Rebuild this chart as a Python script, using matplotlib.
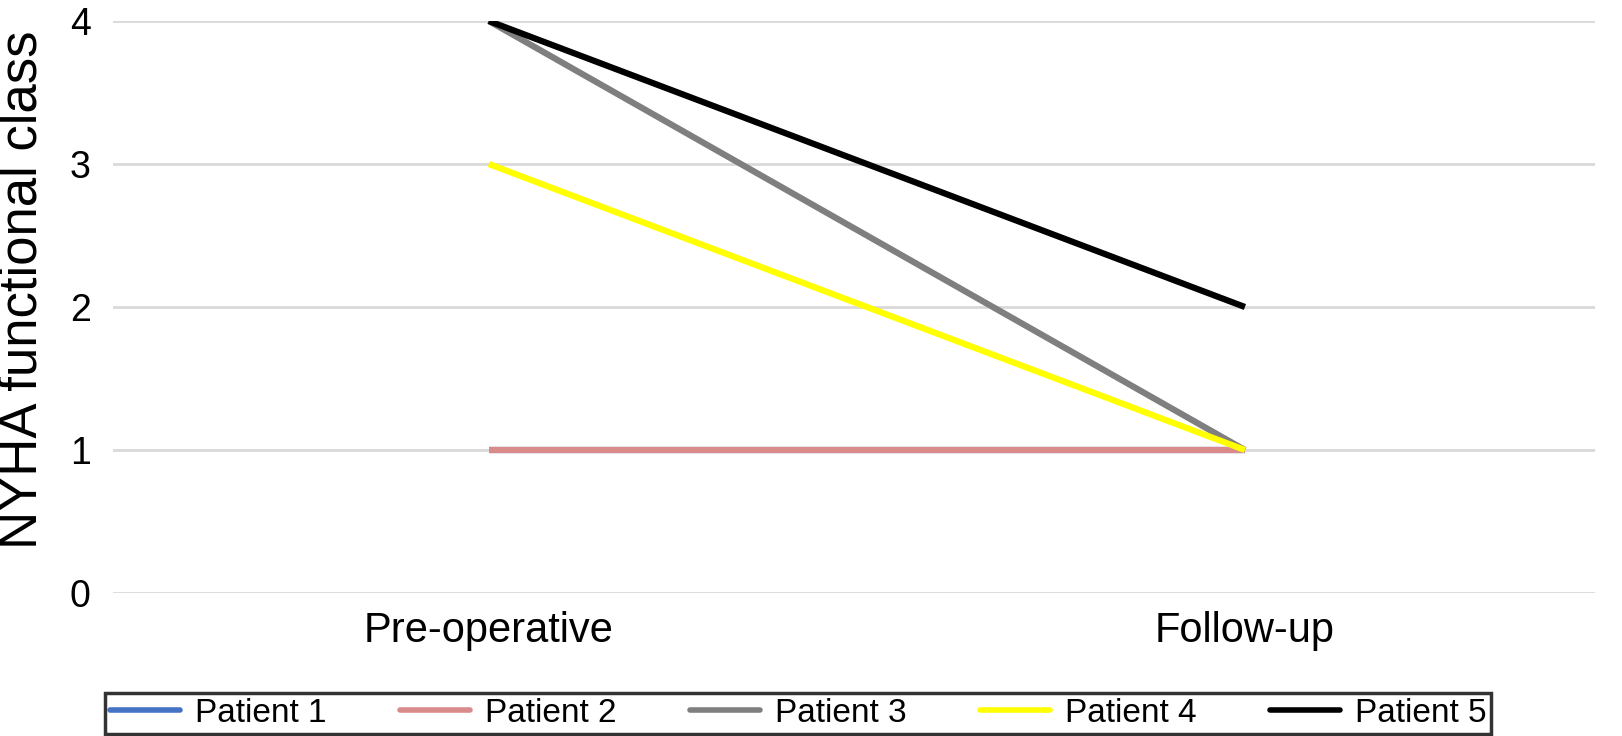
import matplotlib
matplotlib.use("Agg")
import matplotlib.pyplot as plt

plt.rcParams["font.family"] = ["Liberation Sans", "DejaVu Sans"]

stages = ["Pre-operative", "Follow-up"]
patients = ["Patient 1", "Patient 2", "Patient 3", "Patient 4", "Patient 5"]
nyha = [
    [1, 1],
    [1, 1],
    [4, 1],
    [3, 1],
    [4, 2],
]
colors = ["#4472C4", "#D98B8B", "#7F7F7F", "#FFFF00", "#000000"]

W, H = 1622, 736
fig = plt.figure(figsize=(W / 100, H / 100), dpi=100)
# axes box in pixels: left 113, right 1595, top 21, bottom 593
ax = fig.add_axes([113 / W, 1 - 593 / H, (1595 - 113) / W, (593 - 21) / H])

x = list(range(len(stages)))
for name, vals, c in zip(patients, nyha, colors):
    ax.plot(x, vals, color=c, lw=4.5, label=name, solid_capstyle="butt")

ax.set_xlim(-0.497, 1.463)
ax.set_ylim(0, 4)
ax.set_yticks([0, 1, 2, 3, 4])
ax.set_xticks(x)
ax.set_xticklabels(stages, fontsize=30)
ax.tick_params(axis="y", labelsize=27, length=0, pad=16)
ax.tick_params(axis="x", length=0, pad=13)
ax.yaxis.grid(True, color="#D9D9D9", lw=2)
ax.set_axisbelow(True)
for s in ax.spines.values():
    s.set_visible(False)
ax.set_ylabel("NYHA functional class", fontsize=38, labelpad=16)
ax.yaxis.label.set_y(0.53)

leg = fig.legend(loc="lower left", bbox_to_anchor=(105 / W, 2 / H), ncol=5,
                 fontsize=24, frameon=True, fancybox=False, edgecolor="black",
                 handlelength=2.1, columnspacing=2.2, borderpad=0.15, borderaxespad=0,
                 handletextpad=0.45)
leg.get_frame().set_linewidth(2.5)
for h in leg.get_lines():
    h.set_linewidth(4)
    h.set_solid_capstyle("round")

fig.savefig("out.png", dpi=100)
